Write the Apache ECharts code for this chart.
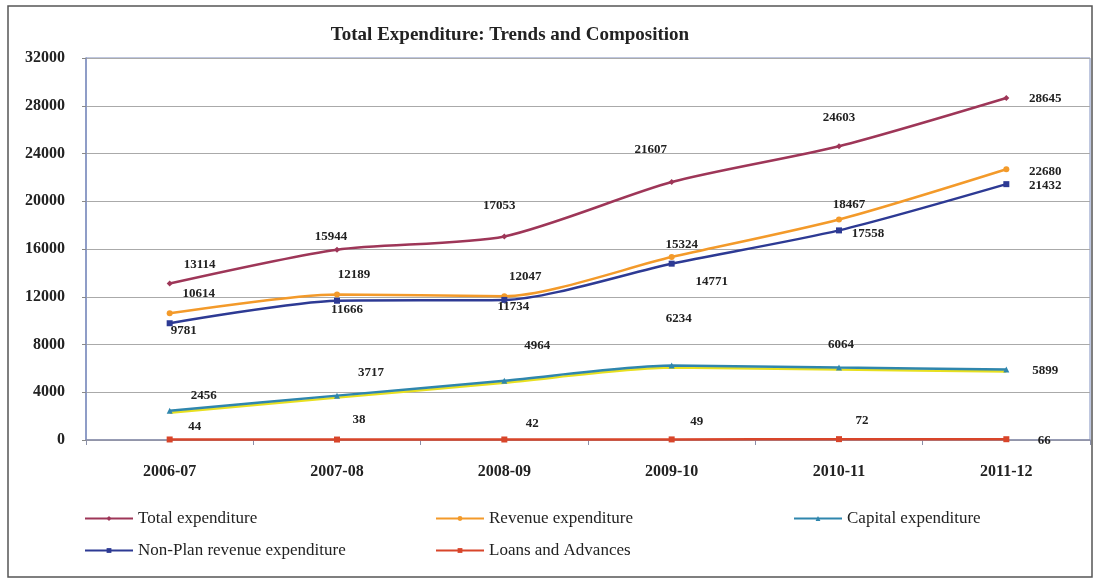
<!DOCTYPE html>
<html><head><meta charset="utf-8">
<script src="https://cdn.jsdelivr.net/npm/echarts@6/dist/echarts.min.js"></script>
<style>html,body{margin:0;padding:0;background:#fff}#c{width:1097px;height:584px}</style>
</head><body><div id="c"></div>
<script>
const categories = ['2006-07','2007-08','2008-09','2009-10','2010-11','2011-12'];
const totalExp = [13114, 15944, 17053, 21607, 24603, 28645];
const revenueExp = [10614, 12189, 12047, 15324, 18467, 22680];
const capitalExp = [2456, 3717, 4964, 6234, 6064, 5899];
const nonPlanExp = [9781, 11666, 11734, 14771, 17558, 21432];
const loansAdv = [44, 38, 42, 49, 72, 66];
const yTicks = [0, 4000, 8000, 12000, 16000, 20000, 24000, 28000, 32000];

// label placement (style only)
const offTotal = [[30,-19],[-6,-13],[-5,-31],[-21,-32],[0,-29],[39,1]];
const offRevenue = [[29,-20],[17,-20],[21,-20],[10,-12],[10,-15],[39,2]];
const offNonPlan = [[14,7],[10,9],[9,7],[40,18],[29,3],[39,1]];
const offCapital = [[34,-15],[34,-23],[33,-35],[7,-47],[2,-23],[39,1]];
const offLoans = [[25,-13],[22,-20],[28,-16],[25,-18],[23,-18],[38,1]];

const serif = '"Liberation Serif", "DejaVu Serif", serif';
function mk(vals, offs){
  return vals.map((v,i)=>({value:v, label:{offset:offs[i]}}));
}
function series(name, vals, offs, color, symbol, extra){
  return Object.assign({
    name, type:'line', smooth:0.25, data: mk(vals, offs),
    symbol, symbolSize:6, z: 3,
    itemStyle:{color}, lineStyle:{color, width:2.5},
    label:{show:true, position:'inside', fontFamily:serif, fontWeight:'bold', fontSize:13, color:'#222'}
  }, extra||{});
}
const legendBase = {orient:'vertical', top:505, itemWidth:48, itemHeight:6, itemGap:15,
  textStyle:{fontFamily:serif, fontSize:17, color:'#222'}};
const chart = echarts.init(document.getElementById('c'), null, {renderer:'canvas'});
chart.setOption({
  animation:false,
  backgroundColor:'#fff',
  title:{text:'Total Expenditure: Trends and Composition', left:505, top:21, textAlign:'center',
    textStyle:{fontFamily:serif, fontWeight:'bold', fontSize:19, color:'#222'}},
  grid:{left:86, right:7, top:58, bottom:144, show:true, borderColor:'#7f8fbf', borderWidth:1},
  xAxis:{type:'category', data:categories, boundaryGap:true,
    axisLine:{lineStyle:{color:'#8a8fa8', width:1.5}}, axisTick:{show:true, length:5, lineStyle:{color:'#8a8fa8'}},
    axisLabel:{fontFamily:serif, fontWeight:'bold', fontSize:16, color:'#222', margin:24}},
  yAxis:{type:'value', min:yTicks[0], max:yTicks[yTicks.length-1], interval:yTicks[1]-yTicks[0],
    axisLine:{show:true, lineStyle:{color:'#7f8fbf', width:1.5}}, axisTick:{show:true, length:4, lineStyle:{color:'#888'}},
    splitLine:{lineStyle:{color:'#aaa'}},
    axisLabel:{fontFamily:serif, fontWeight:'bold', fontSize:16, color:'#222', margin:21, formatter:v=>String(v)}},
  legend:[
    Object.assign({data:['Total expenditure','Non-Plan revenue expenditure'], left:79}, legendBase),
    Object.assign({data:['Revenue expenditure','Loans and Advances'], left:430}, legendBase),
    Object.assign({data:['Capital expenditure'], left:788}, legendBase)
  ],
  graphic:[{type:'rect', shape:{x:8, y:6, width:1084, height:571}, style:{fill:'none', stroke:'#555', lineWidth:1.5}, silent:true}],
  series:[
    series('Total expenditure', totalExp, offTotal, '#9e3658', 'diamond'),
    series('Revenue expenditure', revenueExp, offRevenue, '#f39a2a', 'circle'),
    series('Capital expenditure', capitalExp, offCapital, '#2f86ad', 'triangle',
      {lineStyle:{color:'#2f86ad', width:2.5, shadowColor:'#e8e020', shadowOffsetY:2, shadowBlur:0}}),
    series('Non-Plan revenue expenditure', nonPlanExp, offNonPlan, '#2d3a94', 'rect'),
    series('Loans and Advances', loansAdv, offLoans, '#d8452a', 'rect')
  ]
});
</script></body></html>
